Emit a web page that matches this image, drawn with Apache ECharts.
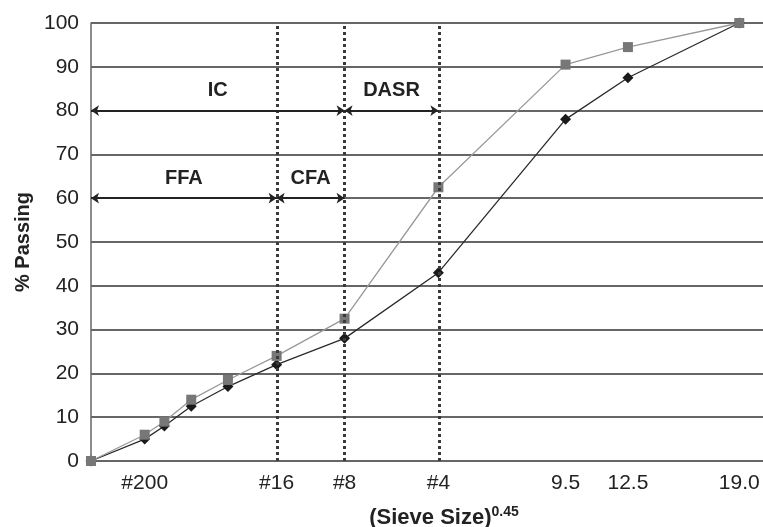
<!DOCTYPE html>
<html>
<head>
<meta charset="utf-8">
<script src="https://cdn.jsdelivr.net/npm/echarts@6/dist/echarts.min.js"></script>
<style>
  html, body { margin: 0; padding: 0; background: #fff; }
  #chart { width: 763px; height: 527px; }
</style>
</head>
<body>
<div id="chart"></div>
<script>
// sieve sizes in mm, x axis is size^0.45
var sieveSizes = [0, 0.075, 0.15, 0.3, 0.6, 1.18, 2.36, 4.75, 9.5, 12.5, 19.0];
var passingUpper = [0, 6, 9, 14, 18.5, 24, 32.5, 62.5, 90.5, 94.5, 100];
var passingLower = [0, 5, 8, 12.5, 17, 22, 28, 43, 78, 87.5, 100];

var tickSizes = [0.075, 1.18, 2.36, 4.75, 9.5, 12.5, 19.0];
var tickLabels = ['#200', '#16', '#8', '#4', '9.5', '12.5', '19.0'];

var dividerSizes = [1.18, 2.36, 4.75];

var bandNames = ['IC', 'DASR', 'FFA', 'CFA'];
var bandFrom = [0, 2.36, 0, 1.18];
var bandTo = [2.36, 4.75, 1.18, 2.36];
var bandLevel = [80, 80, 60, 60];

function pw(s) { return Math.pow(s, 0.45); }

var chart = echarts.init(document.getElementById('chart'));

var tickX = tickSizes.map(pw);

var markData = [];
dividerSizes.forEach(function (s) {
    markData.push({
        xAxis: pw(s),
        label: { show: false },
        lineStyle: { type: [3, 3], width: 3, color: '#3a3a3a' }
    });
});
bandNames.forEach(function (n, i) {
    markData.push([
        {
            coord: [pw(bandFrom[i]), bandLevel[i]],
            symbol: 'arrow',
            label: {
                show: true,
                position: 'middle',
                formatter: n,
                fontSize: 20,
                fontWeight: 'bold',
                color: '#222',
                fontFamily: 'Liberation Sans',
                distance: 10
            },
            lineStyle: { type: 'solid', width: 2, color: '#222' }
        },
        { coord: [pw(bandTo[i]), bandLevel[i]], symbol: 'arrow' }
    ]);
});

var option = {
    animation: false,
    textStyle: { fontFamily: 'Liberation Sans' },
    grid: { left: 91, right: 0, top: 23, bottom: 66, outerBoundsMode: 'none' },
    xAxis: {
        type: 'value',
        min: 0,
        max: 3.9,
        name: '{a|(Sieve Size)}{b|0.45}',
        nameLocation: 'middle',
        nameGap: 44,
        nameTextStyle: {
            padding: [0, 0, 0, 34],
            rich: {
                a: { fontSize: 22, fontWeight: 'bold', color: '#222', fontFamily: 'Liberation Sans' },
                b: { fontSize: 14, fontWeight: 'bold', color: '#222', fontFamily: 'Liberation Sans', verticalAlign: 'top', padding: [0, 0, 12, 0] }
            }
        },
        axisLine: { show: false },
        axisTick: { show: false },
        splitLine: { show: false },
        axisLabel: {
            customValues: tickX,
            fontSize: 21,
            color: '#222',
            margin: 12,
            formatter: function (v) {
                for (var i = 0; i < tickX.length; i++) {
                    if (Math.abs(tickX[i] - v) < 1e-6) return tickLabels[i];
                }
                return '';
            }
        }
    },
    yAxis: {
        type: 'value',
        min: 0,
        max: 100,
        interval: 10,
        name: '% Passing',
        nameLocation: 'middle',
        nameGap: 58,
        nameTextStyle: { fontSize: 20, fontWeight: 'bold', color: '#222' },
        axisLine: { show: true, lineStyle: { color: '#666', width: 1.5 } },
        axisTick: { show: false },
        axisLabel: { fontSize: 21, color: '#222', margin: 12 },
        splitLine: { lineStyle: { color: '#333', width: 1.5 } }
    },
    series: [
        {
            name: 'lower',
            type: 'line',
            data: sieveSizes.map(function (s, i) { return [pw(s), passingLower[i]]; }),
            symbol: 'diamond',
            symbolSize: 11,
            itemStyle: { color: '#1a1a1a' },
            lineStyle: { color: '#2a2a2a', width: 1.3 },
            markLine: {
                silent: true,
                symbol: ['none', 'none'],
                symbolSize: 8,
                data: markData
            }
        },
        {
            name: 'upper',
            type: 'line',
            data: sieveSizes.map(function (s, i) { return [pw(s), passingUpper[i]]; }),
            symbol: 'rect',
            symbolSize: 10,
            itemStyle: { color: '#777' },
            lineStyle: { color: '#999', width: 1.3 }
        }
    ]
};

chart.setOption(option);
</script>
</body>
</html>
